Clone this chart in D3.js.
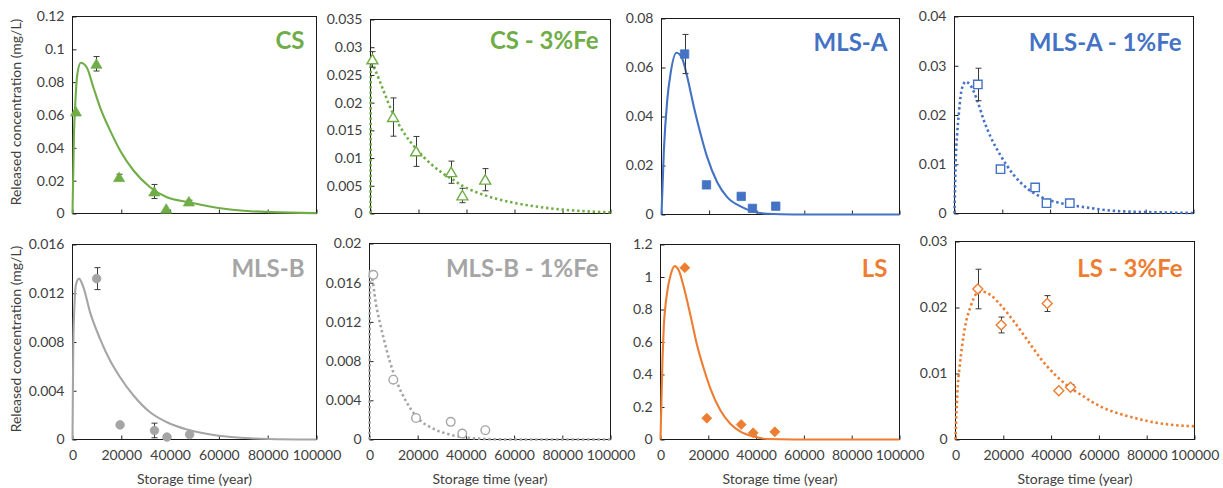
<!DOCTYPE html>
<html><head><meta charset="utf-8">
<script src="https://cdn.jsdelivr.net/npm/d3@7"></script>
<style>
body{margin:0;background:#fff}
svg{display:block}
text{font-family:Lato,Carlito,Calibri,"Open Sans",sans-serif}
</style>
</head><body>
<svg id="c" width="1223" height="488"></svg>
<script>
// ---------- data ----------
const xTicks = [0, 20000, 40000, 60000, 80000, 100000];
const panelTitles = ["CS", "CS - 3%Fe", "MLS-A", "MLS-A - 1%Fe", "MLS-B", "MLS-B - 1%Fe", "LS", "LS - 3%Fe"];
const xTitle = "Storage time (year)";
const yTitle = "Released concentration (mg/L)";

const yTicksCS = [0, 0.02, 0.04, 0.06, 0.08, 0.1, 0.12];
const yTicksCS3 = [0, 0.005, 0.01, 0.015, 0.02, 0.025, 0.03, 0.035];
const yTicksMA = [0, 0.02, 0.04, 0.06, 0.08];
const yTicksMA1 = [0, 0.01, 0.02, 0.03, 0.04];
const yTicksMB = [0, 0.004, 0.008, 0.012, 0.016];
const yTicksMB1 = [0, 0.004, 0.008, 0.012, 0.016, 0.02];
const yTicksLS = [0, 0.2, 0.4, 0.6, 0.8, 1, 1.2];
const yTicksLS3 = [0, 0.01, 0.02, 0.03];

// CS
const timeCS = [1400, 9800, 19100, 33500, 38400, 47700];
const concCS = [0.0621, 0.0912, 0.0221, 0.0134, 0.0029, 0.0073];
const errCS = [0, 0.0044, 0.0018, 0.0043, 0, 0.0008];
const fitCS = [[0,0],[600,0.0485],[1000,0.0627],[2000,0.085],[3400,0.0918],[5800,0.0891],[8550,0.0769],[11300,0.0647],[15400,0.0506],[19500,0.0384],[25000,0.0262],[31800,0.016],[38700,0.0099],[47700,0.0069],[59200,0.0035],[72900,0.0014],[93400,0.0004],[100000,0.0002]];

// CS - 3%Fe
const timeCS3 = [800, 9400, 19000, 33600, 38300, 47800];
const concCS3 = [0.0278, 0.0174, 0.0112, 0.00745, 0.00325, 0.0061];
const errCS3 = [0.0014, 0.00345, 0.0027, 0.002, 0.0013, 0.002];
const fitCS3 = [[0,0],[150,0.0272],[2000,0.0258],[5000,0.0226],[9400,0.0180],[14000,0.0145],[19000,0.0117],[25000,0.0090],[30000,0.0073],[34000,0.0062],[38300,0.0050],[45000,0.0037],[52000,0.0027],[60000,0.0019],[70000,0.0012],[80000,0.0007],[90000,0.0004],[100000,0.0002]];

// MLS-A
const timeMA = [9700, 18900, 33500, 38200, 48000];
const concMA = [0.0655, 0.0121, 0.0074, 0.0025, 0.0034];
const errMA = [0.008, 0, 0, 0, 0];
const fitMA = [[0,0],[1000,0.0262],[2400,0.0466],[3800,0.0575],[6300,0.066],[8700,0.0637],[10800,0.0562],[13600,0.0439],[16400,0.033],[19200,0.0234],[23400,0.0132],[27600,0.0071],[33200,0.0033],[38800,0.0011],[44400,0.0003],[55600,0],[100000,0]];

// MLS-A - 1%Fe
const timeMA1 = [9760, 19250, 33750, 38500, 48250];
const concMA1 = [0.0262, 0.0090, 0.0053, 0.0021, 0.0021];
const errMA1 = [0.0033, 0, 0, 0, 0];
const fitMA1 = [[0,0],[420,0.0095],[1120,0.0162],[1810,0.0203],[2510,0.0237],[3900,0.0264],[4600,0.0268],[6690,0.026],[9490,0.023],[12280,0.0189],[15060,0.0156],[19250,0.0118],[24830,0.0078],[30400,0.0051],[36000,0.0034],[44350,0.0021],[54100,0.0013],[68000,0.0005],[89000,0.0002],[100000,0.0001]];

// MLS-B
const timeMB = [9900, 19500, 33600, 38700, 48000];
const concMB = [0.0132, 0.0012, 0.00074, 0.0002, 0.00041];
const errMB = [0.0009, 0, 0.0006, 0, 0];
const fitMB = [[0,0],[300,0.0075],[800,0.011],[1400,0.0127],[2670,0.0132],[4450,0.0125],[7190,0.01045],[11290,0.00826],[15400,0.00648],[19500,0.00511],[25000,0.00361],[31800,0.00224],[38700,0.00142],[46900,0.00082],[59200,0.00033],[72900,0.0001],[93000,0],[100000,0]];

// MLS-B - 1%Fe
const timeMB1 = [1580, 9880, 19300, 33700, 38500, 48060];
const concMB1 = [0.0168, 0.0061, 0.0022, 0.0018, 0.0006, 0.00095];
const errMB1 = [0, 0, 0, 0, 0, 0];
const fitMB1 = [[0,0],[200,0.0172],[3000,0.0134],[5700,0.0105],[8500,0.0079],[11300,0.0059],[15400,0.0038],[19600,0.0023],[26500,0.0011],[33400,0.0005],[40300,0.0002],[48600,0.00005],[60000,0],[100000,0]];

// LS
const timeLS = [10170, 19380, 33750, 38780, 47830];
const concLS = [1.057, 0.131, 0.092, 0.041, 0.047];
const errLS = [0, 0, 0, 0, 0];
const fitLS = [[0,0],[840,0.496],[1390,0.70],[2090,0.825],[2790,0.907],[4180,1.009],[5860,1.067],[7670,1.04],[9760,0.937],[12550,0.763],[15340,0.578],[18130,0.435],[20920,0.312],[25100,0.178],[29290,0.096],[33470,0.049],[39050,0.018],[44630,0.003],[55800,0],[100000,0]];

// LS - 3%Fe
const timeLS3 = [9340, 19120, 38370, 43230, 48120];
const concLS3 = [0.0228, 0.01735, 0.0206, 0.0074, 0.0079];
const errLS3 = [0.003, 0.0012, 0.0012, 0, 0.0004];
const fitLS3 = [[0,0],[420,0.0042],[980,0.0082],[1810,0.0113],[2790,0.0143],[4180,0.0174],[6280,0.0201],[9070,0.0222],[11160,0.0224],[14640,0.0219],[18830,0.0204],[24410,0.0179],[29990,0.0151],[35560,0.0123],[41140,0.0100],[46720,0.0082],[53690,0.0065],[60660,0.0050],[67640,0.0040],[74610,0.0033],[81580,0.0027],[88560,0.0023],[100000,0.0020]];

// ---------- layout / style ----------
const GREEN = "#70AD47", BLUE = "#4472C4", GRAY = "#A5A5A5", ORANGE = "#ED7D31";
const TEXT = "#404040";

const panels = [
  {x0:72.5, x1:316.5, y0:16.5, y1:213.5, ticks:yTicksCS, t:timeCS, c:concCS, e:errCS, fit:fitCS, color:GREEN, marker:"tri", hollow:false, dotted:false, bottom:false, ytitle:true, tb:49},
  {x0:370.5, x1:610.5, y0:19.5, y1:213.5, ticks:yTicksCS3, t:timeCS3, c:concCS3, e:errCS3, fit:fitCS3, color:GREEN, marker:"tri", hollow:true, dotted:true, bottom:false, ytitle:false, tb:49},
  {x0:661.5, x1:899.5, y0:18.5, y1:214.5, ticks:yTicksMA, t:timeMA, c:concMA, e:errMA, fit:fitMA, color:BLUE, marker:"sq", hollow:false, dotted:false, bottom:false, ytitle:false, tb:50.5},
  {x0:954.5, x1:1193.5, y0:16.5, y1:213.5, ticks:yTicksMA1, t:timeMA1, c:concMA1, e:errMA1, fit:fitMA1, color:BLUE, marker:"sq", hollow:true, dotted:true, bottom:false, ytitle:false, tb:50.5},
  {x0:72.5, x1:316.5, y0:244.5, y1:439.5, ticks:yTicksMB, t:timeMB, c:concMB, e:errMB, fit:fitMB, color:GRAY, marker:"circ", hollow:false, dotted:false, bottom:true, ytitle:true, tb:276.5},
  {x0:369.5, x1:610.5, y0:243.5, y1:439.5, ticks:yTicksMB1, t:timeMB1, c:concMB1, e:errMB1, fit:fitMB1, color:GRAY, marker:"circ", hollow:true, dotted:true, bottom:true, ytitle:false, tb:276.5},
  {x0:660.5, x1:899.5, y0:244.5, y1:439.5, ticks:yTicksLS, t:timeLS, c:concLS, e:errLS, fit:fitLS, color:ORANGE, marker:"dia", hollow:false, dotted:false, bottom:true, ytitle:false, tb:276.5},
  {x0:955.5, x1:1194.5, y0:241.5, y1:439.5, ticks:yTicksLS3, t:timeLS3, c:concLS3, e:errLS3, fit:fitLS3, color:ORANGE, marker:"dia", hollow:true, dotted:true, bottom:true, ytitle:false, tb:276.5}
];

const markerPath = {
  tri: "M0,-5L5.5,4.4L-5.5,4.4Z",
  sq: "M-4.2,-4.2H4.2V4.2H-4.2Z",
  circ: "M4.3,0A4.3,4.3 0 1,1 -4.3,0A4.3,4.3 0 1,1 4.3,0Z",
  dia: "M0,-5L5,0L0,5L-5,0Z"
};

const svg = d3.select("#c");
const fmt = d => String(d);

panels.forEach((p, i) => {
  const x = d3.scaleLinear().domain([0, 100000]).range([p.x0, p.x1]);
  const y = d3.scaleLinear().domain([0, p.ticks[p.ticks.length - 1]]).range([p.y1, p.y0]);
  const g = svg.append("g");

  // y axis
  const ya = g.append("g").attr("transform", `translate(${p.x0},0)`)
    .call(d3.axisLeft(y).tickValues(p.ticks).tickSizeInner(-4).tickSizeOuter(0).tickPadding(8).tickFormat(fmt));
  // x axis
  const xa = g.append("g").attr("transform", `translate(0,${p.y1})`)
    .call(d3.axisBottom(x).tickValues(xTicks).tickSizeInner(-4).tickSizeOuter(0).tickPadding(11)
      .tickFormat(p.bottom ? fmt : () => ""));
  [ya, xa].forEach(a => {
    a.select(".domain").remove();
    a.selectAll(".tick line").attr("stroke", "#262626").attr("stroke-width", 1);
    a.selectAll(".tick text").attr("fill", TEXT).style("font-size", "14px").style("font-family", "Lato, Carlito, Calibri, sans-serif");
  });

  // border
  g.append("rect").attr("x", p.x0).attr("y", p.y0)
    .attr("width", p.x1 - p.x0).attr("height", p.y1 - p.y0)
    .attr("fill", "none").attr("stroke", "#1a1a1a").attr("stroke-width", 1);

  // fitted curve
  const line = d3.line().x(d => x(d[0])).y(d => y(d[1])).curve(d3.curveMonotoneX);
  const path = g.append("path").datum(p.fit).attr("d", line)
    .attr("fill", "none").attr("stroke", p.color);
  if (p.dotted) {
    path.attr("stroke-width", 2.6).attr("stroke-dasharray", "2.4 2.8");
  } else {
    path.attr("stroke-width", 2.1).attr("stroke-linejoin", "round");
  }

  // error bars
  const pts = p.t.map((t, k) => ({t, c: p.c[k], e: p.e[k]}));
  const eb = g.append("g").attr("stroke", "#3a3a3a").attr("stroke-width", 1);
  pts.filter(d => d.e > 0).forEach(d => {
    const cx = Math.round(x(d.t)) + 0.5;
    const top = y(d.c + d.e), bot = y(d.c - d.e);
    eb.append("line").attr("x1", cx).attr("x2", cx).attr("y1", top).attr("y2", bot);
    eb.append("line").attr("x1", cx - 3).attr("x2", cx + 3).attr("y1", top).attr("y2", top);
    eb.append("line").attr("x1", cx - 3).attr("x2", cx + 3).attr("y1", bot).attr("y2", bot);
  });

  // markers
  g.append("g").selectAll("path").data(pts).join("path")
    .attr("d", markerPath[p.marker])
    .attr("transform", d => `translate(${x(d.t)},${y(d.c)})`)
    .attr("fill", p.hollow ? "#fff" : p.color)
    .attr("stroke", p.color)
    .attr("stroke-width", p.hollow ? 1.4 : 0.8);

  // panel title
  g.append("text").attr("x", p.x1 - 12).attr("y", p.tb)
    .attr("text-anchor", "end").attr("fill", p.color)
    .style("font-size", "24px").style("font-weight", "bold")
    .text(panelTitles[i]);

  // axis titles
  if (p.bottom) {
    g.append("text").attr("x", (p.x0 + p.x1) / 2).attr("y", 484)
      .attr("text-anchor", "middle").attr("fill", TEXT).style("font-size", "14px")
      .text(xTitle);
  }
  if (p.ytitle) {
    const cy = (p.y0 + p.y1) / 2 - 3;
    g.append("text").attr("transform", `translate(21,${cy}) rotate(-90)`)
      .attr("text-anchor", "middle").attr("fill", TEXT).style("font-size", "14px")
      .text(yTitle);
  }
});
</script>
</body></html>
